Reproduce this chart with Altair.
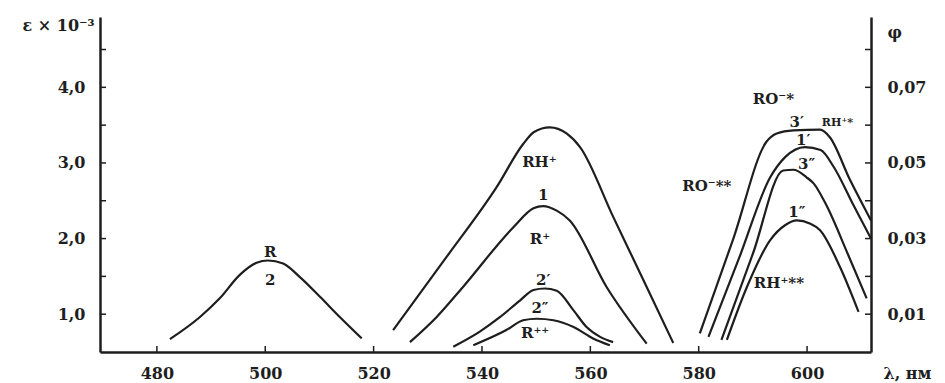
import altair as alt
import pandas as pd

# ---- data ----
r_lam = [482.4, 487.9, 491.6, 495.3, 498.4, 500.5, 503.3, 506.4, 510.1, 513.8, 517.8]
r_eps = [0.67, 0.96, 1.21, 1.52, 1.68, 1.71, 1.67, 1.49, 1.23, 0.96, 0.68]

rh_lam = [523.6, 533.5, 542.7, 547.6, 549.6, 552.5, 555.6, 558.1, 564.2, 570.4, 575.3]
rh_eps = [0.79, 1.76, 2.68, 3.25, 3.41, 3.47, 3.39, 3.21, 2.29, 1.36, 0.62]

c1_lam = [526.7, 531.6, 536.5, 545.8, 549.5, 551.3, 553.8, 556.2, 563.0, 570.4]
c1_eps = [0.63, 0.96, 1.36, 2.15, 2.40, 2.43, 2.37, 2.24, 1.36, 0.61]

c2a_lam = [534.7, 539.6, 543.3, 547.0, 549.5, 551.6, 553.8, 556.9, 559.3, 561.8, 564.2]
c2a_eps = [0.57, 0.77, 0.96, 1.18, 1.32, 1.34, 1.31, 1.05, 0.83, 0.70, 0.63]

c2b_lam = [538.4, 544.5, 547.6, 550.1, 553.2, 556.9, 560.5, 563.6]
c2b_eps = [0.59, 0.79, 0.92, 0.94, 0.92, 0.83, 0.68, 0.59]

c3a_lam = [580.2, 586.4, 592.5, 594.4, 597.5, 602.4, 604.2, 607.9, 611.8]
c3a_eps = [0.745, 2.00, 3.28, 3.39, 3.43, 3.44, 3.34, 2.78, 2.24]

c1a_lam = [581.8, 587.5, 593.2, 596.0, 599.6, 602.5, 604.9, 608.5, 611.8]
c1a_eps = [0.70, 1.75, 2.81, 3.08, 3.21, 3.17, 2.95, 2.45, 2.00]

c3b_lam = [584.2, 590.0, 595.6, 597.5, 599.9, 601.2, 603.5, 607.5, 611.0]
c3b_eps = [0.66, 1.80, 2.90, 2.91, 2.81, 2.73, 2.45, 1.80, 1.21]

c1b_lam = [585.2, 588.9, 593.2, 596.0, 598.1, 600.5, 602.4, 606.1, 609.5]
c1b_eps = [0.66, 1.36, 1.98, 2.18, 2.24, 2.20, 2.11, 1.62, 1.03]

label_text = ["R", "2", "RH⁺", "1", "R⁺", "2′", "2″", "R⁺⁺",
              "RO⁻*", "3′", "1′", "3″", "RO⁻**", "1″", "RH⁺**"]
label_lam = [500.9, 500.9, 550.6, 551.3, 550.7, 551.3, 550.7, 549.8,
             593.8, 598.1, 599.3, 599.9, 581.5, 598.1, 594.8]
label_eps = [1.82, 1.45, 3.01, 2.57, 2.00, 1.45, 1.08, 0.745,
             3.85, 3.54, 3.30, 2.99, 2.70, 2.35, 1.41]

small_text = ["RH⁺*"]
small_lam = [605.6]
small_eps = [3.53]

x_ticks = [480, 500, 520, 540, 560, 580, 600]
eps_ticks = [1.0, 1.5, 2.0, 2.5, 3.0, 3.5, 4.0, 4.5]
eps_labels = [1.0, 2.0, 3.0, 4.0]
phi_ticks = [0.01, 0.02, 0.03, 0.04, 0.05, 0.06, 0.07, 0.08]
phi_labels = [0.01, 0.03, 0.05, 0.07]

# ---- build tables ----
curves = []
for name, lam, eps in [("R", r_lam, r_eps), ("RH", rh_lam, rh_eps), ("1", c1_lam, c1_eps),
                       ("2a", c2a_lam, c2a_eps), ("2b", c2b_lam, c2b_eps),
                       ("3a", c3a_lam, c3a_eps), ("1a", c1a_lam, c1a_eps),
                       ("3b", c3b_lam, c3b_eps), ("1b", c1b_lam, c1b_eps)]:
    for l, e in zip(lam, eps):
        curves.append({"curve": name, "lam": l, "eps": e})
curves = pd.DataFrame(curves)
labels = pd.DataFrame({"t": label_text, "lam": label_lam, "eps": label_eps})
smalls = pd.DataFrame({"t": small_text, "lam": small_lam, "eps": small_eps})

W, H = 771, 335
FONT = "DejaVu Serif"
INK = "#1e1e1e"

x_scale = alt.Scale(domain=[469.5, 611.8], nice=False, zero=False)
eps_scale = alt.Scale(domain=[0.5, 4.93], nice=False, zero=False)
phi_scale = alt.Scale(domain=[0.0, 0.0886], nice=False, zero=False)

x_axis = alt.Axis(values=x_ticks, ticks=False, grid=False, labelPadding=13,
                  labelFont=FONT, labelFontSize=16, labelFontWeight="bold", labelColor=INK,
                  domainColor=INK, domainWidth=2.5,
                  title="λ, нм", titleX=783, titleY=21, titleAlign="left",
                  titleBaseline="middle", titleFont=FONT, titleFontSize=16,
                  titleFontWeight="bold", titleColor=INK)

left_axis = alt.Axis(values=eps_labels, ticks=False, grid=False, labelPadding=15,
                     labelExpr="replace(format(datum.value, '.1f'), '.', ',')",
                     labelFont=FONT, labelFontSize=16, labelFontWeight="bold", labelColor=INK,
                     domainColor=INK, domainWidth=2.5,
                     title="ε × 10⁻³", titleAngle=0, titleX=-6, titleY=8, titleAlign="right",
                     titleBaseline="middle", titleFont=FONT, titleFontSize=16,
                     titleFontWeight="bold", titleColor=INK)

right_axis = alt.Axis(orient="right", values=phi_labels, ticks=False, grid=False, labelPadding=16,
                      labelExpr="replace(format(datum.value, '.2f'), '.', ',')",
                      labelFont=FONT, labelFontSize=16, labelFontWeight="bold", labelColor=INK,
                      domainColor=INK, domainWidth=2.5,
                      title="φ", titleAngle=0, titleX=16, titleY=15, titleAlign="left",
                      titleBaseline="middle", titleFont=FONT, titleFontSize=16,
                      titleFontWeight="bold", titleColor=INK)

lines = alt.Chart(curves).mark_line(interpolate="monotone", clip=True, color=INK,
                                    strokeWidth=2.2).encode(
    x=alt.X("lam:Q", scale=x_scale, axis=x_axis),
    y=alt.Y("eps:Q", scale=eps_scale, axis=left_axis),
    detail="curve:N",
)

text = alt.Chart(labels).mark_text(font=FONT, fontSize=15, fontWeight="bold", color=INK,
                                   align="center", baseline="middle").encode(
    x=alt.X("lam:Q", scale=x_scale),
    y=alt.Y("eps:Q", scale=eps_scale),
    text="t:N",
)

small = alt.Chart(smalls).mark_text(font=FONT, fontSize=11, fontWeight="bold", color=INK,
                                    align="center", baseline="middle").encode(
    x=alt.X("lam:Q", scale=x_scale),
    y=alt.Y("eps:Q", scale=eps_scale),
    text="t:N",
)

left_ticks = alt.Chart(pd.DataFrame({"v": eps_ticks})).mark_rule(color=INK, strokeWidth=1.5).encode(
    y=alt.Y("v:Q", scale=eps_scale),
    x=alt.value(0), x2=alt.value(6),
)

bottom_ticks = alt.Chart(pd.DataFrame({"v": x_ticks})).mark_rule(color=INK, strokeWidth=1.5).encode(
    x=alt.X("v:Q", scale=x_scale),
    y=alt.value(H - 6), y2=alt.value(H),
)

right_ticks = alt.Chart(pd.DataFrame({"v": phi_ticks})).mark_rule(color=INK, strokeWidth=1.5).encode(
    y=alt.Y("v:Q", scale=phi_scale, axis=right_axis),
    x=alt.value(W - 6), x2=alt.value(W),
)

inner = alt.layer(lines, text, small, left_ticks, bottom_ticks)
chart = alt.layer(inner, right_ticks).resolve_scale(y="independent").properties(
    width=W, height=H,
    padding={"left": 92, "top": 9, "right": 66, "bottom": 31},
    autosize=alt.AutoSizeParams(type="none"),
    background="white",
).configure_view(stroke=None)

chart.save("out.html", embed_options={"renderer": "svg", "actions": False})
